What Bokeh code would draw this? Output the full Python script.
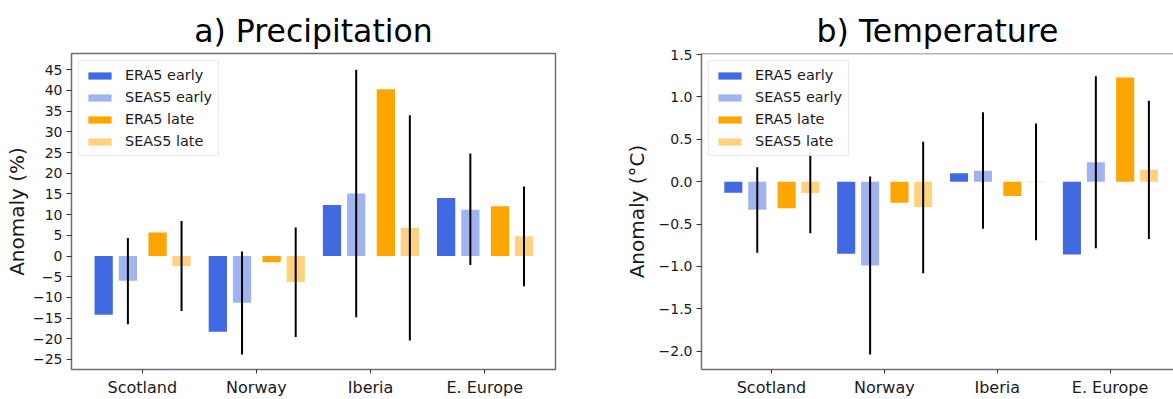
import numpy as np
from bokeh.plotting import figure
from bokeh.models import Range1d, FixedTicker, CustomJSTickFormatter, Span
from bokeh.layouts import row
from bokeh.embed import file_html
from bokeh.resources import INLINE

# ---------------- data ----------------
regions = ["Scotland", "Norway", "Iberia", "E. Europe"]
series_labels = ["ERA5 early", "SEAS5 early", "ERA5 late", "SEAS5 late"]

precip_era5_early = [-14.2, -18.3, 12.3, 14.0]
precip_seas5_early = [-6.0, -11.3, 15.1, 11.2]
precip_era5_late = [5.7, -1.5, 40.3, 12.0]
precip_seas5_late = [-2.4, -6.3, 6.8, 4.75]
precip_early_lo = [-16.5, -23.8, -14.8, -2.2]
precip_early_hi = [4.35, 1.1, 45.0, 24.8]
precip_late_lo = [-13.3, -19.6, -20.4, -7.3]
precip_late_hi = [8.45, 6.9, 34.0, 16.8]

temp_era5_early = [-0.13, -0.85, 0.10, -0.86]
temp_seas5_early = [-0.33, -0.99, 0.13, 0.23]
temp_era5_late = [-0.315, -0.25, -0.17, 1.23]
temp_seas5_late = [-0.135, -0.30, -0.008, 0.14]
temp_early_lo = [-0.84, -2.04, -0.555, -0.785]
temp_early_hi = [0.17, 0.06, 0.82, 1.245]
temp_late_lo = [-0.61, -1.08, -0.69, -0.675]
temp_late_hi = [0.34, 0.47, 0.685, 0.955]

precip_yticks = [-25, -20, -15, -10, -5, 0, 5, 10, 15, 20, 25, 30, 35, 40, 45]
temp_yticks = [-2.0, -1.5, -1.0, -0.5, 0.0, 0.5, 1.0, 1.5]

# ---------------- style ----------------
FONT = "DejaVu Sans"
offsets = [-0.338, -0.126, 0.134, 0.344]
bar_width = 0.16
colors = ["#4169E1", "#4169E1", "#FFA500", "#FFA500"]
alphas = [1.0, 0.5, 1.0, 0.5]
FRAME = "#6e6e6e"
TXT = "#1a1a1a"
PX_PER_CAT = 114.3


def make_panel(title, ylabel, series, err_early, err_late, yr, yticks, fmt,
               width, mb_left, mb_right, xr, label_standoff, title_offset, outline):
    p = figure(width=width, height=399, output_backend="svg", toolbar_location=None,
               x_range=Range1d(*xr), y_range=Range1d(*yr),
               min_border_left=mb_left, min_border_right=mb_right,
               min_border_top=53, min_border_bottom=30)
    p.title.text = title
    p.title.text_font = FONT
    p.title.text_font_size = "31.5px"
    p.title.text_font_style = "normal"
    p.title.text_color = "black"
    p.title.align = "center"
    p.title.standoff = 9
    p.title.offset = title_offset
    p.xgrid.visible = False
    p.ygrid.visible = False
    p.background_fill_color = "white"
    p.border_fill_color = "white"

    x_idx = np.arange(len(regions), dtype=float)
    for k, vals in enumerate(series):
        p.vbar(x=x_idx + offsets[k], top=vals, bottom=0, width=bar_width,
               fill_color=colors[k], fill_alpha=alphas[k], line_color=None,
               legend_label=series_labels[k])
    for k, (lo, hi) in zip([1, 3], [err_early, err_late]):
        p.segment(x0=x_idx + offsets[k], x1=x_idx + offsets[k], y0=lo, y1=hi,
                  line_color="black", line_width=2)

    # axes
    xa = p.xaxis[0]
    xa.ticker = FixedTicker(ticks=list(range(len(regions))))
    xa.major_label_overrides = {i: r for i, r in enumerate(regions)}
    xa.major_label_text_font = FONT
    xa.major_label_text_font_size = "16px"
    xa.major_label_text_color = TXT
    xa.major_tick_out = 4
    xa.major_tick_in = 0
    xa.minor_tick_line_color = None
    xa.major_label_standoff = 4
    xa.major_tick_line_color = "#333333"

    ya = p.yaxis[0]
    ya.ticker = FixedTicker(ticks=yticks)
    ya.formatter = CustomJSTickFormatter(code=fmt)
    ya.major_label_text_font = FONT
    ya.major_label_text_font_size = "14px"
    ya.major_label_text_color = TXT
    ya.major_tick_out = 5
    ya.major_tick_in = 0
    ya.minor_tick_line_color = None
    ya.major_label_standoff = 4
    ya.major_tick_line_color = "#333333"
    ya.axis_label = ylabel
    ya.axis_label_text_font = FONT
    ya.axis_label_text_font_size = "20px"
    ya.axis_label_text_font_style = "normal"
    ya.axis_label_text_color = TXT
    ya.axis_label_standoff = label_standoff

    if outline:
        p.outline_line_color = FRAME
        p.outline_line_width = 1.5
        xa.axis_line_color = None
        ya.axis_line_color = None
    else:
        p.outline_line_color = None
        xa.axis_line_color = FRAME
        xa.axis_line_width = 1.5
        ya.axis_line_color = FRAME
        ya.axis_line_width = 1.5
        p.add_layout(Span(location=yr[1], dimension="width",
                          line_color=FRAME, line_width=1.5))

    leg = p.legend[0]
    leg.location = "top_left"
    leg.margin = 7
    leg.padding = 6
    leg.spacing = 6
    leg.glyph_width = 29
    leg.glyph_height = 9
    leg.label_standoff = 11
    leg.label_height = 13
    leg.label_text_font = FONT
    leg.label_text_font_size = "14.4px"
    leg.label_text_color = TXT
    leg.border_line_color = "#d4d4d4"
    leg.border_line_width = 1
    leg.background_fill_alpha = 0.85
    return p


fmt_int = "return tick < 0 ? '\u2212' + Math.abs(tick).toFixed(0) : tick.toFixed(0);"
fmt_1 = "return tick < 0 ? '\u2212' + Math.abs(tick).toFixed(1) : tick.toFixed(1);"

p1 = make_panel("a) Precipitation", "Anomaly (%)",
                [precip_era5_early, precip_seas5_early, precip_era5_late, precip_seas5_late],
                (precip_early_lo, precip_early_hi), (precip_late_lo, precip_late_hi),
                (-27.43, 48.94), precip_yticks, fmt_int,
                width=621, mb_left=71, mb_right=66, xr=(-0.62, 3.62),
                label_standoff=1, title_offset=0, outline=True)

p2 = make_panel("b) Temperature", "Anomaly (\u00b0C)",
                [temp_era5_early, temp_seas5_early, temp_era5_late, temp_seas5_late],
                (temp_early_lo, temp_early_hi), (temp_late_lo, temp_late_hi),
                (-2.216, 1.512), temp_yticks, fmt_1,
                width=552, mb_left=74, mb_right=0, xr=(-0.62, -0.62 + 478 / PX_PER_CAT),
                label_standoff=7, title_offset=3, outline=False)

layout = row(p1, p2)
open("out.html", "w").write(file_html(layout, INLINE))
